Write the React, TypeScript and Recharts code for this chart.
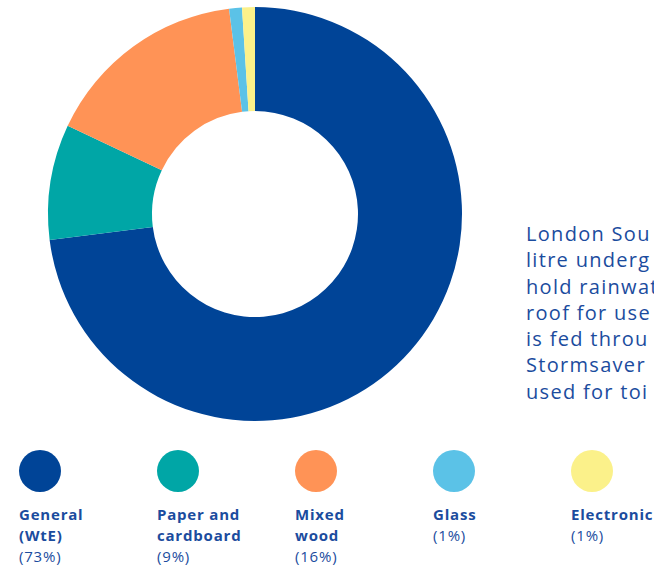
import { PieChart, Pie, Cell } from 'recharts';

const categories = ['General', 'Paper and cardboard', 'Mixed wood', 'Glass', 'Electronic'];
const labelLines = [['General', '(WtE)'], ['Paper and', 'cardboard'], ['Mixed', 'wood'], ['Glass'], ['Electronic']];
const shares = [73, 9, 16, 1, 1];
const colors = ['#004497', '#00A6A6', '#FF9356', '#5BC2E7', '#FBF18A'];
const sideText = ['London Sou', 'litre underg', 'hold rainwat', 'roof for use', 'is fed throu', 'Stormsaver', 'used for toi'];

const data = categories.map((name, i) => ({ name, value: shares[i] }));
const textColor = '#1B4C9E';
const font = '"Open Sans", sans-serif';

export default function App() {
  return (
    <div style={{ position: 'absolute', left: 0, top: 0, width: 654, height: 567, overflow: 'hidden', background: '#fff', fontFamily: font }}>
      <PieChart
        width={520}
        height={430}
        margin={{ top: 0, right: 0, bottom: 0, left: 0 }}
        style={{ position: 'absolute', left: 0, top: 0 }}
      >
        <Pie
          data={data}
          dataKey="value"
          cx={255}
          cy={214}
          innerRadius={103}
          outerRadius={207}
          startAngle={90}
          endAngle={-270}
          stroke="none"
          isAnimationActive={false}
        >
          {data.map((d, i) => (
            <Cell key={d.name} fill={colors[i]} />
          ))}
        </Pie>
      </PieChart>

      <div style={{ position: 'absolute', left: 526, top: 221, color: textColor, fontSize: 20, lineHeight: '26.3px', letterSpacing: 1.3, whiteSpace: 'nowrap' }}>
        {sideText.map((t) => (
          <div key={t}>{t}</div>
        ))}
      </div>

      {categories.map((name, i) => (
        <div key={name} style={{ position: 'absolute', left: 19 + i * 138, top: 450, color: textColor }}>
          <div style={{ width: 42, height: 42, borderRadius: '50%', background: colors[i] }} />
          <div style={{ marginTop: 12, fontSize: 15, lineHeight: '21px', whiteSpace: 'nowrap', letterSpacing: 0.8 }}>
            {labelLines[i].map((l) => (
              <div key={l} style={{ fontWeight: 700 }}>{l}</div>
            ))}
            <div>({shares[i]}%)</div>
          </div>
        </div>
      ))}
    </div>
  );
}
